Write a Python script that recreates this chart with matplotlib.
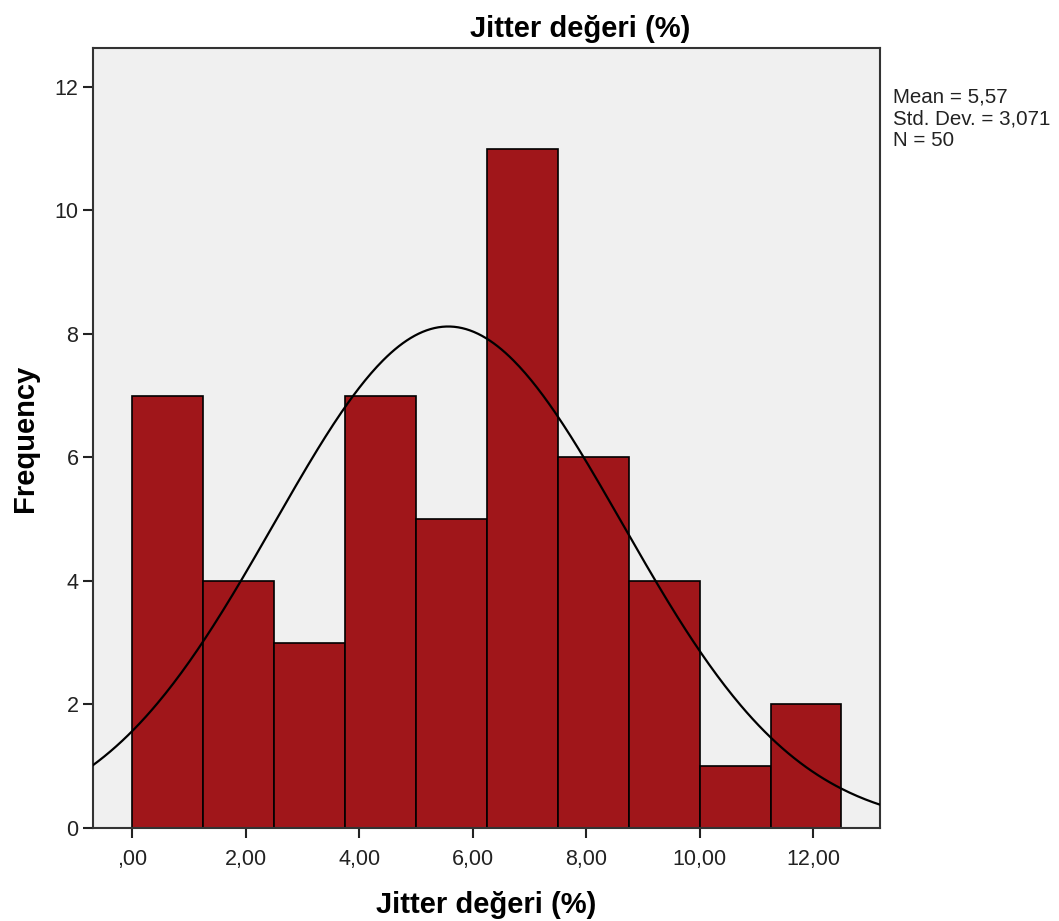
import numpy as np
import matplotlib.pyplot as plt

plt.rcParams['font.family'] = ['Liberation Sans', 'DejaVu Sans']

# histogram bins (width 1.25) and counts
bin_edges = [0, 1.25, 2.5, 3.75, 5, 6.25, 7.5, 8.75, 10, 11.25, 12.5]
counts = [7, 4, 3, 7, 5, 11, 6, 4, 1, 2]
mean, sd, n = 5.57, 3.071, 50

x_ticks = [0, 2, 4, 6, 8, 10, 12]
x_labels = [',00', '2,00', '4,00', '6,00', '8,00', '10,00', '12,00']
y_ticks = [0, 2, 4, 6, 8, 10, 12]

fig = plt.figure(figsize=(10.59, 9.21), dpi=100)
ax = fig.add_axes([0.0878, 0.101, 0.7432, 0.847])
ax.set_facecolor('#f0f0f0')

widths = np.diff(bin_edges)
ax.bar(bin_edges[:-1], counts, width=widths, align='edge',
       color='#a0161a', edgecolor='black', linewidth=1.2, zorder=2)

# normal curve scaled to counts
xs = np.linspace(-0.7, 13.2, 400)
ys = n * widths[0] / (sd * np.sqrt(2 * np.pi)) * np.exp(-0.5 * ((xs - mean) / sd) ** 2)
ax.plot(xs, ys, color='black', linewidth=1.6, zorder=3)

ax.set_xlim(-0.69, 13.18)
ax.set_ylim(0, 12.63)
ax.set_xticks(x_ticks)
ax.set_xticklabels(x_labels)
ax.set_yticks(y_ticks)
ax.tick_params(axis='both', labelsize=15.5, length=7, width=1.5, color='#222222', labelcolor='#222222')
ax.tick_params(axis='x', pad=8)
for s in ax.spines.values():
    s.set_linewidth(1.5)
    s.set_color('#333333')

fig.text(0.548, 0.969, 'Jitter değeri (%)', fontsize=21, fontweight='bold',
         ha='center', va='center')
ax.set_xlabel('Jitter değeri (%)', fontsize=21, fontweight='bold', labelpad=15)
ax.set_ylabel('Frequency', fontsize=21, fontweight='bold')
ax.yaxis.set_label_coords(-0.068, 0.5)

fig.text(0.843, 0.905, 'Mean = 5,57\nStd. Dev. = 3,071\nN = 50',
         fontsize=14.8, va='top', ha='left', linespacing=1.2, color='#222222')

plt.savefig('out.png', dpi=100)
